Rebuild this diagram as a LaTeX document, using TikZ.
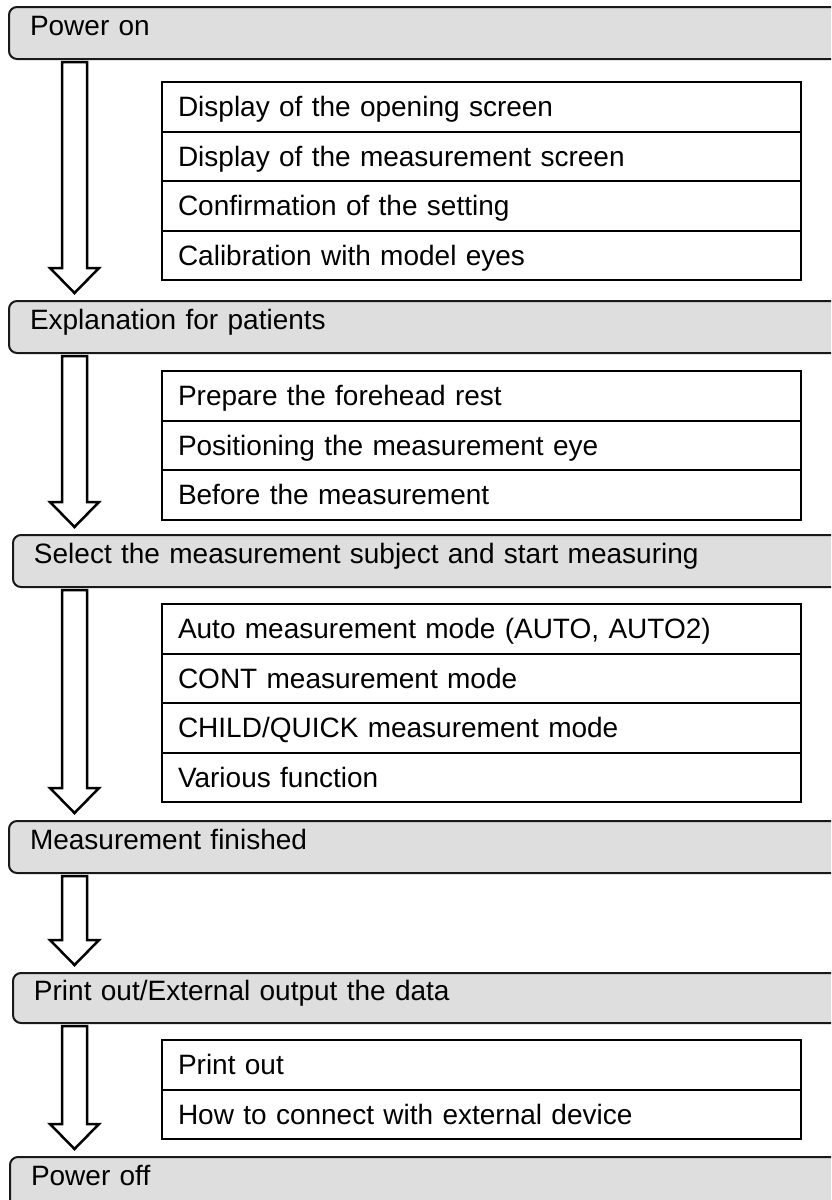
\documentclass[tikz,border=0pt]{standalone}
\usepackage{fontspec}
\setmainfont{Liberation Sans}
\usetikzlibrary{positioning,calc}

\begin{document}
\begin{tikzpicture}[
        x=1pt, y=-1pt,
        every node/.style={font=\fontsize{28}{34}\selectfont, outer sep=0pt},
        header/.style={draw=black!90, line width=2pt, fill=black!13, rounded corners=8pt,
            anchor=north west, text width=800pt, align=left, inner xsep=21pt, inner ysep=0pt,
            minimum height=52pt, text height=20pt, text depth=16pt},
        item/.style={draw, line width=2pt, text width=607pt, align=left, inner xsep=16pt,
            inner ysep=0pt, minimum height=49.5pt, text height=20pt, text depth=0pt},
        bigarrow/.style={draw, fill=white, line width=2.5pt, line join=miter}
    ]

    \clip (0,0) rectangle (831,1200);

    % steps
    \node[header] (poweron) at (9,7) {Power on};
    \node[header] (explain) at (9,301) {Explanation for patients};
    \node[header] (select) at (13,535) {Select the measurement subject and start measuring};
    \node[header] (finished) at (9,821) {Measurement finished};
    \node[header, minimum height=50pt] (output) at (13,973) {Print out/External output the data};
    \node[header] (poweroff) at (10,1157) {Power off};

    % details
    \node[item, anchor=north west] (opening) at (162,82) {Display of the opening screen};
    \node[item, below=0pt of opening] (measscreen) {Display of the measurement screen};
    \node[item, below=0pt of measscreen] (setting) {Confirmation of the setting};
    \node[item, below=0pt of setting] (calib) {Calibration with model eyes};

    \node[item, anchor=north west] (forehead) at (162,371) {Prepare the forehead rest};
    \node[item, below=0pt of forehead] (position) {Positioning the measurement eye};
    \node[item, below=0pt of position] (before) {Before the measurement};

    \node[item, anchor=north west] (auto) at (162,604) {Auto measurement mode (AUTO, AUTO2)};
    \node[item, below=0pt of auto] (cont) {CONT measurement mode};
    \node[item, below=0pt of cont] (child) {CHILD/QUICK measurement mode};
    \node[item, below=0pt of child] (various) {Various function};

    \node[item, anchor=north west] (print) at (162,1040) {Print out};
    \node[item, below=0pt of print] (connect) {How to connect with external device};

    % arrows
    \foreach \a/\b in {poweron/explain, explain/select, select/finished, finished/output, output/poweroff}
        \draw[bigarrow] let \p1=(\a.south), \p2=(\b.north) in
            (62pt,\y1-3pt) -- (62pt,\y2+33pt) -- (50pt,\y2+33pt) -- (74.5pt,\y2+8pt)
            -- (99pt,\y2+33pt) -- (87pt,\y2+33pt) -- (87pt,\y1-3pt) -- cycle;

\end{tikzpicture}
\end{document}
